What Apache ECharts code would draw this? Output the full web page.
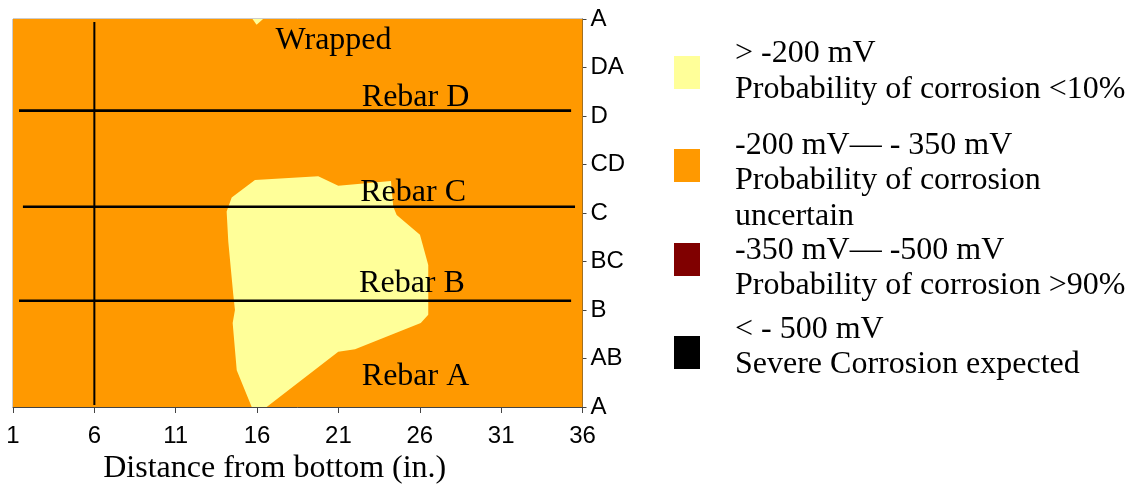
<!DOCTYPE html>
<html>
<head>
<meta charset="utf-8">
<title>Half-cell potential map</title>
<script src="https://cdn.jsdelivr.net/npm/echarts@6/dist/echarts.min.js"></script>
<style>
  html, body { margin: 0; padding: 0; background: #fff; }
  #chart { width: 1129px; height: 487px; }
</style>
</head>
<body>
<div id="chart"></div>
<script>
// axis ticks
const xTicks = [1, 6, 11, 16, 21, 26, 31, 36];
const yTickLabels = ["A", "AB", "B", "BC", "C", "CD", "D", "DA", "A"];

// potential ranges (legend)
const levelColors = ["#FFFF99", "#FF9900", "#800000", "#000000"];
const levelLabels = [
  "> -200 mV\nProbability of corrosion <10%",
  "-200 mV\u2014 - 350 mV\nProbability of corrosion\nuncertain",
  "-350 mV\u2014 -500 mV\nProbability of corrosion >90%",
  "< - 500 mV\nSevere Corrosion expected",
];

// contour zones: outline points [distance, row]
const zoneUncertain = [[1, 0], [36, 0], [36, 8], [1, 8]];
const zoneLowMain = [
  [14.44, 4.32], [15.87, 4.68], [19.76, 4.76], [20.99, 4.56], [24.23, 4.66],
  [24.37, 4.13], [24.58, 3.96], [26.01, 3.55], [26.52, 2.93], [26.52, 1.90],
  [26.06, 1.73], [22.02, 1.19], [20.99, 1.14], [16.59, 0], [15.67, 0],
  [14.75, 0.76], [14.50, 1.73], [14.64, 2.0], [14.54, 2.31], [14.23, 3.41],
  [14.13, 4.03],
];
const zoneLowTop = [[15.72, 8], [16.37, 8], [15.97, 7.88]];

// rebar lines
const rebarY = [6.11, 4.13, 2.19];
const rebarStart = [1.37, 1.61, 1.37];
const rebarEnd = [35.3, 35.54, 35.3];
// wrap boundary
const wrapX = 6;
const wrapY = [0.04, 7.94];

// notes on the map
const noteTexts = ["Wrapped", "Rebar D", "Rebar C", "Rebar B", "Rebar A"];
const noteX = [20.7, 25.74, 25.59, 25.52, 25.74];
const noteY = [7.55, 6.38, 4.43, 2.55, 0.62];

const zones = [
  { color: levelColors[1], pts: zoneUncertain },
  { color: levelColors[0], pts: zoneLowMain },
  { color: levelColors[0], pts: zoneLowTop },
];

const serif = '"Liberation Serif", "Times New Roman", serif';
const sans = '"Liberation Sans", Arial, sans-serif';

const chart = echarts.init(document.getElementById("chart"));

const lineSeries = rebarY.map((y, i) => ({
  type: "line",
  data: [[rebarStart[i], y], [rebarEnd[i], y]],
  symbol: "none",
  lineStyle: { color: "#000", width: 2.6 },
  z: 5,
  silent: true,
}));
lineSeries.push({
  type: "line",
  data: [[wrapX, wrapY[0]], [wrapX, wrapY[1]]],
  symbol: "none",
  lineStyle: { color: "#000", width: 2 },
  z: 5,
  silent: true,
});

// legend drawn by hand (icons not centred on the text blocks)
const legendSquareTop = [56, 149, 243, 336];
const legendTextTop = [36, 127.5, 232.5, 311.5];
const legendGraphic = [];
levelColors.forEach((c, i) => {
  legendGraphic.push({
    type: "rect",
    left: 674,
    top: legendSquareTop[i],
    shape: { width: 26, height: 33 },
    style: { fill: c },
  });
  legendGraphic.push({
    type: "text",
    left: 735,
    top: legendTextTop[i],
    style: {
      text: levelLabels[i],
      fontFamily: serif,
      fontSize: 32,
      lineHeight: 35.5,
      fill: "#000",
    },
  });
});

const option = {
  animation: false,
  grid: {
    left: 13,
    top: 19,
    width: 569.5,
    height: 388,
    outerBoundsMode: "none",
    containLabel: false,
    show: true,
    borderColor: "#999",
    borderWidth: 1,
  },
  xAxis: {
    type: "value",
    min: 1,
    max: 36,
    name: "Distance from bottom (in.)",
    nameLocation: "middle",
    nameGap: 43,
    nameTextStyle: {
      fontFamily: serif,
      fontSize: 32,
      color: "#000",
      padding: [0, 46, 0, 0],
    },
    splitLine: { show: false },
    axisLine: { lineStyle: { color: "#444", width: 1 } },
    axisTick: { show: true, length: 6, customValues: xTicks, lineStyle: { color: "#444" } },
    axisLabel: {
      customValues: xTicks,
      fontFamily: sans,
      fontSize: 24,
      color: "#000",
      margin: 17,
    },
  },
  yAxis: {
    type: "value",
    position: "right",
    min: 0,
    max: 8,
    interval: 1,
    splitLine: { show: false },
    axisLine: { show: true, lineStyle: { color: "#444", width: 1 } },
    axisTick: { show: true, length: 4, lineStyle: { color: "#444" } },
    axisLabel: {
      formatter: (v) => yTickLabels[v],
      fontFamily: sans,
      fontSize: 24,
      color: "#000",
      margin: 8,
    },
  },
  graphic: legendGraphic,
  series: [
    {
      type: "custom",
      coordinateSystem: "cartesian2d",
      data: zones.map((z, i) => [i]),
      clip: true,
      silent: true,
      z: 1,
      renderItem: (params, api) => {
        const zone = zones[api.value(0)];
        return {
          type: "polygon",
          shape: { points: zone.pts.map((p) => api.coord(p)) },
          style: { fill: zone.color },
        };
      },
    },
    ...lineSeries,
    {
      type: "custom",
      coordinateSystem: "cartesian2d",
      data: noteTexts.map((t, i) => [noteX[i], noteY[i]]),
      silent: true,
      z: 6,
      renderItem: (params, api) => {
        const pt = api.coord([api.value(0), api.value(1)]);
        return {
          type: "text",
          x: pt[0],
          y: pt[1],
          style: {
            text: noteTexts[params.dataIndex],
            fontFamily: serif,
            fontSize: 32,
            fill: "#000",
            align: "center",
            verticalAlign: "middle",
          },
        };
      },
    },
  ],
};

chart.setOption(option);
</script>
</body>
</html>
